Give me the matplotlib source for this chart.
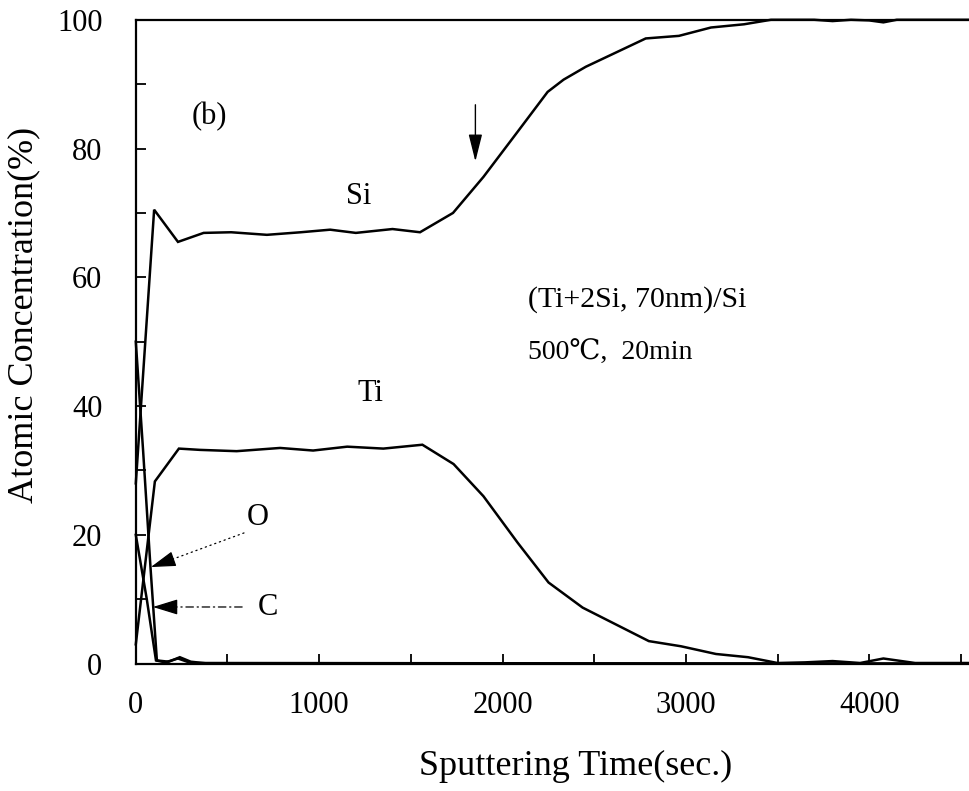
import matplotlib.pyplot as plt
from matplotlib.ticker import MultipleLocator

# AES depth profile values
si_time = [0, 100, 230, 370, 520, 715, 900, 1060, 1200, 1400, 1550, 1730, 1896, 2082,
           2246, 2333, 2454, 2781, 2962, 3137, 3317, 3464, 3700, 3800, 3900, 4000,
           4077, 4150, 4300, 4560]
si_conc = [28, 70.5, 65.5, 66.9, 67.0, 66.6, 67.0, 67.4, 66.9, 67.5, 67.0, 70.0, 75.6, 82.6,
           88.8, 90.7, 92.7, 97.1, 97.5, 98.8, 99.3, 100, 100, 99.8, 100, 99.9,
           99.6, 100, 100, 100]

ti_time = [0, 104, 235, 350, 550, 787, 967, 1153, 1350, 1563, 1733, 1896, 2082, 2251,
           2437, 2798, 2973, 3164, 3339, 3500, 3650, 3800, 3950, 4077, 4250, 4560]
ti_conc = [3, 28.3, 33.4, 33.2, 33.0, 33.5, 33.1, 33.7, 33.4, 34.0, 31.0, 26.0, 18.8, 12.6,
           8.7, 3.5, 2.7, 1.5, 1.0, 0.1, 0.2, 0.4, 0.1, 0.8, 0.1, 0.1]

o_time = [0, 40, 80, 115, 180, 240, 300, 400, 4560]
o_conc = [50, 33, 15, 0.5, 0.3, 1.0, 0.3, 0, 0]

c_time = [0, 60, 110, 160, 230, 300, 4560]
c_conc = [20, 10, 0.5, 0.2, 0.8, 0.1, 0]

xticks = [0, 1000, 2000, 3000, 4000]
yticks = [0, 20, 40, 60, 80, 100]

plt.rcParams['font.family'] = ['Liberation Serif', 'DejaVu Serif']

fig = plt.figure(figsize=(9.7, 7.91), dpi=100)
ax = fig.add_axes([0.140, 0.161, 0.862, 0.814])

for t, c in [(si_time, si_conc), (ti_time, ti_conc), (o_time, o_conc), (c_time, c_conc)]:
    ax.plot(t, c, color='black', lw=1.8, clip_on=False, solid_joinstyle='miter')

ax.set_xlim(0, 4560)
ax.set_ylim(0, 100)
ax.set_xticks(xticks)
ax.set_yticks(yticks)
ax.xaxis.set_minor_locator(MultipleLocator(500))
ax.yaxis.set_minor_locator(MultipleLocator(10))
ax.tick_params(which='both', direction='in', length=7, width=1.3, labelsize=22)
ax.tick_params(axis='x', pad=20)
ax.tick_params(axis='y', pad=24)
ax.spines['right'].set_visible(False)
for s in ['left', 'bottom', 'top']:
    ax.spines[s].set_linewidth(1.6)

ax.set_xlabel('Sputtering Time(sec.)', fontsize=26, labelpad=21)
ax.set_ylabel('Atomic Concentration(%)', fontsize=26, labelpad=12)
ax.xaxis.label.set_x(0.526)
ax.yaxis.label.set_y(0.542)

ax.text(400, 85, '(b)', fontsize=22, ha='center', va='center')
ax.text(1213, 72.5, 'Si', fontsize=22, ha='center', va='center')
ax.text(1279, 42, 'Ti', fontsize=22, ha='center', va='center')
ax.text(2137, 56.5, '(Ti+2Si, 70nm)/Si', fontsize=21.5, ha='left', va='center')
ax.text(2137, 48.3, '500\u2103,  20min', fontsize=20, ha='left', va='center')
ax.text(667, 22.7, 'O', fontsize=22, ha='center', va='center')
ax.text(721, 8.7, 'C', fontsize=22, ha='center', va='center')

head = '-|>,head_length=1.3,head_width=0.4'
# O pointer: dotted leader + solid head
ax.annotate('', xy=(170, 15.9), xytext=(590, 20.3),
            arrowprops=dict(arrowstyle='-', color='black', lw=0.9, ls=(0, (1, 3)),
                            shrinkA=0, shrinkB=0))
ax.annotate('', xy=(82, 15), xytext=(190, 16.1),
            arrowprops=dict(arrowstyle=head, color='black', lw=0.9, mutation_scale=12,
                            shrinkA=0, shrinkB=0))
# C pointer: dash-dot leader + solid head
ax.annotate('', xy=(180, 8.8), xytext=(580, 8.8),
            arrowprops=dict(arrowstyle='-', color='black', lw=0.9, ls=(0, (6, 3, 1, 3)),
                            shrinkA=0, shrinkB=0))
ax.annotate('', xy=(93, 8.8), xytext=(200, 8.8),
            arrowprops=dict(arrowstyle=head, color='black', lw=0.9, mutation_scale=12,
                            shrinkA=0, shrinkB=0))
ax.annotate('', xy=(1852, 78.0), xytext=(1852, 86.8),
            arrowprops=dict(arrowstyle='-|>,head_length=1.4,head_width=0.35', color='black',
                            lw=1.0, mutation_scale=12, shrinkA=0, shrinkB=0))

fig.savefig('out.png', dpi=100)
